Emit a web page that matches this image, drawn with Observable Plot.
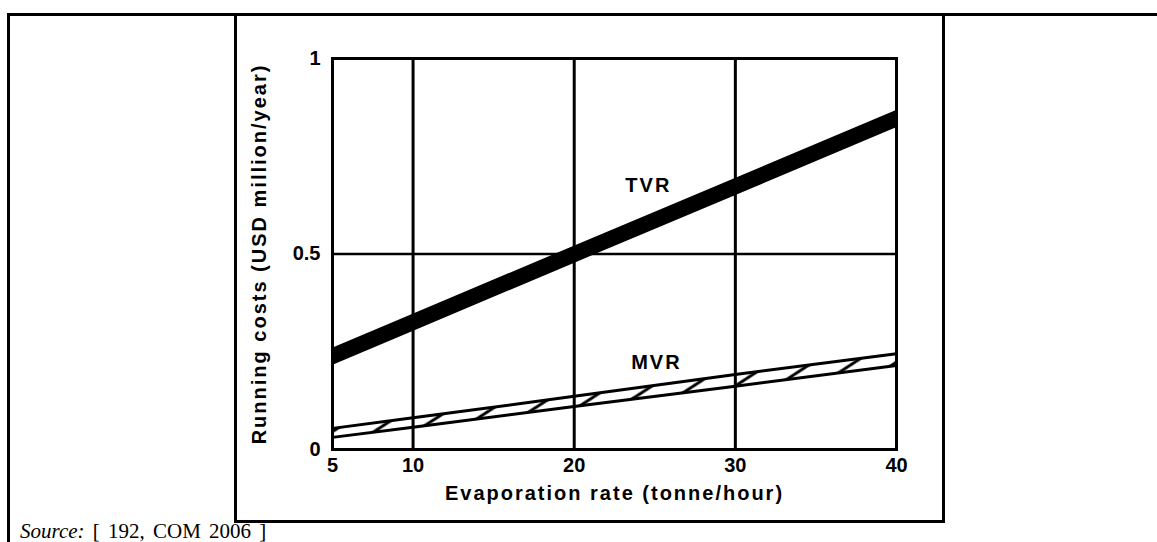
<!DOCTYPE html>
<html>
<head>
<meta charset="utf-8">
<script src="https://cdn.jsdelivr.net/npm/d3@7"></script>
<script src="https://cdn.jsdelivr.net/npm/@observablehq/plot@0.6"></script>
<style>
  html, body { margin: 0; padding: 0; background: #fff; }
  body { width: 1157px; height: 542px; position: relative; overflow: hidden; }
  #outer { position: absolute; left: 7px; top: 13px; width: 1170px; height: 560px; border: 3px solid #000; box-sizing: border-box; }
  #inner { position: absolute; left: 234px; top: 13px; width: 711px; height: 510px; border: 3px solid #000; box-sizing: border-box; }
  #chart { position: absolute; left: 0; top: 0; }
  #source { position: absolute; left: 20px; top: 520px; font-family: "Liberation Serif", "Times New Roman", serif; font-size: 21px; line-height: 22px; word-spacing: 3px; color: #000; white-space: nowrap; }
</style>
</head>
<body>
<div id="outer"></div>
<div id="inner"></div>
<div id="chart"></div>
<div id="source"><i>Source:</i> [ 192, COM 2006 ]</div>
<script>
// Evaporation rate (tonne/hour)
const rates = [5, 10, 20, 30, 40];
// TVR band (lower / upper edge), USD million/year
const tvrLow  = [0.215, 0.302, 0.476, 0.649, 0.823];
const tvrHigh = [0.259, 0.346, 0.520, 0.693, 0.867];
// MVR band (lower / upper edge)
const mvrLow  = [0.031, 0.057, 0.110, 0.162, 0.215];
const mvrHigh = [0.054, 0.081, 0.136, 0.192, 0.245];

const xTicks = [5, 10, 20, 30, 40];
const yTicks = [0, 0.5, 1];
const yTickLabels = ["0", "0.5", "1"];
const xGrid = [10, 20, 30];
const yGrid = [0.5];

const seriesLabels = [
  {name: "TVR", x: 24.6, y: 0.675},
  {name: "MVR", x: 25.1, y: 0.222}
];
const xLabel = "Evaporation rate (tonne/hour)";
const yLabel = "Running costs (USD million/year)";

const tvr = rates.map((r, i) => ({x: r, lo: tvrLow[i], hi: tvrHigh[i]}));
const mvr = rates.map((r, i) => ({x: r, lo: mvrLow[i], hi: mvrHigh[i]}));

const font = "'Liberation Sans', Arial, Helvetica, sans-serif";

const plot = Plot.plot({
  width: 1157,
  height: 542,
  marginLeft: 332,
  marginRight: 261,
  marginTop: 58,
  marginBottom: 93,
  style: {fontFamily: font, background: "transparent", color: "#000"},
  x: {domain: [5, 40]},
  y: {domain: [0, 1]},
  marks: [
    Plot.ruleX(xGrid, {stroke: "#000", strokeWidth: 3}),
    Plot.ruleY(yGrid, {stroke: "#000", strokeWidth: 2.4}),
    Plot.areaY(mvr, {x: "x", y1: "lo", y2: "hi", fill: "url(#hatch)"}),
    Plot.lineY(mvr, {x: "x", y: "lo", stroke: "#000", strokeWidth: 3}),
    Plot.lineY(mvr, {x: "x", y: "hi", stroke: "#000", strokeWidth: 3}),
    Plot.areaY(tvr, {x: "x", y1: "lo", y2: "hi", fill: "#000"}),
    Plot.frame({stroke: "#000", strokeWidth: 3}),
    Plot.text(seriesLabels, {x: "x", y: "y", text: "name", fontSize: 20, fontWeight: "bold", fill: "#000"}),
    Plot.axisX({ticks: xTicks, tickFormat: d => String(d), tickSize: 0, tickPadding: 8, fontSize: 20, fontWeight: "bold", label: null}),
    Plot.axisY({ticks: yTicks, tickFormat: (d, i) => yTickLabels[i], tickSize: 0, tickPadding: 12, fontSize: 20, fontWeight: "bold", label: null}),
    Plot.text([xLabel], {frameAnchor: "bottom", dy: 44, text: d => d, fontSize: 20, fontWeight: "bold", fill: "#000", lineAnchor: "middle", textAnchor: "middle"}),
    Plot.text([yLabel], {frameAnchor: "left", dx: -73, rotate: -90, text: d => d, fontSize: 20, fontWeight: "bold", fill: "#000", lineAnchor: "middle", textAnchor: "middle"})
  ]
});

d3.select(plot).insert("defs", ":first-child").html(
  '<pattern id="hatch" patternUnits="userSpaceOnUse" width="32" height="32" patternTransform="rotate(12)">' +
  '<path d="M-4,4 L4,-4 M0,32 L32,0 M28,36 L36,28" stroke="#000" stroke-width="3" fill="none"/>' +
  '</pattern>'
);
d3.select(plot).selectAll("text").style("letter-spacing", "2px");
d3.select(plot).selectAll("g[aria-label='x-axis tick label'] text, g[aria-label='y-axis tick label'] text").style("letter-spacing", "0px");

document.getElementById("chart").appendChild(plot);
</script>
</body>
</html>
